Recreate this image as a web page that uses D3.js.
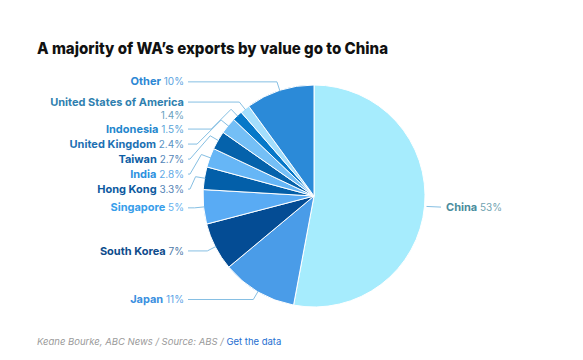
<!DOCTYPE html>
<html>
<head>
<meta charset="utf-8">
<script src="https://cdn.jsdelivr.net/npm/d3@7"></script>
<style>
  html, body { margin: 0; padding: 0; background: #ffffff; }
  svg { display: block; font-family: Inter, "Open Sans", sans-serif; }
</style>
</head>
<body>
<svg id="chart" width="583" height="360"></svg>
<script>
// ---- data ----
const categories = ["China", "Japan", "South Korea", "Singapore", "Hong Kong", "India",
  "Taiwan", "United Kingdom", "Indonesia", "United States of America", "Other"];
const values = [53, 11, 7, 5, 3.3, 2.8, 2.7, 2.4, 1.5, 1.4, 10];
const sliceColors = ["#a6ecfd", "#4a9ce8", "#044c94", "#59abf4", "#035fa9", "#66b6f6",
  "#0562ab", "#74bff6", "#0678c8", "#a3defc", "#2b8ad8"];
const nameColors = ["#4a8c9c", "#3b90e0", "#0e4c8c", "#389eea", "#0d5aa0", "#2d91e0",
  "#0d5ea4", "#1c70b3", "#1f87cd", "#2f7faf", "#2c87d4"];
const pctColors = ["#6fa3b1", "#5aa3e6", "#4d79a8", "#64b1ee", "#5583b5", "#5fa9e6",
  "#5586b8", "#5a93c4", "#5aa4d8", "#6a9fc0", "#5ba3e0"];
const title = "A majority of WA\u2019s exports by value go to China";
const credit = "Keane Bourke, ABC News / Source: ABS / ";
const creditLink = "Get the data";

// ---- layout ----
const svg = d3.select("#chart");
const cx = 314, cy = 196, R = 111;

svg.append("text")
  .attr("x", 37).attr("y", 54)
  .attr("font-size", 16.5).attr("font-weight", 800)
  .attr("fill", "#111")
  .attr("textLength", 351).attr("lengthAdjust", "spacingAndGlyphs")
  .text(title);

const pie = d3.pie().sort(null).value(d => d);
const arcs = pie(values);
const arc = d3.arc().innerRadius(0).outerRadius(R);

const g = svg.append("g").attr("transform", `translate(${cx},${cy})`);
g.selectAll("path.slice").data(arcs).join("path")
  .attr("class", "slice")
  .attr("d", arc)
  .attr("fill", (d, i) => sliceColors[i])
  .attr("stroke", "#ffffff")
  .attr("stroke-width", 1);

// label layout
const polar = (r, a) => [r * Math.sin(a), -r * Math.cos(a)];
const items = arcs.map((d, i) => {
  const mid = (d.startAngle + d.endAngle) / 2;
  const [ox, oy] = polar(120, mid);
  const [ex, ey] = polar(R, mid);
  const name = categories[i];
  const twoLine = name.length > 18;
  return { i, mid, ox, oy, ex, ey, name, twoLine, left: mid > Math.PI, ly: oy };
});

const leftItems = items.filter(d => d.left).sort((a, b) => a.oy - b.oy);
let prev = null;
leftItems.forEach(d => {
  if (prev) {
    const minY = prev.ly + (prev.twoLine ? 27 : 15);
    d.ly = Math.max(d.oy, minY);
  }
  prev = d;
});

const textEndX = -130, lineStartX = -126;
const lines = g.append("g").attr("fill", "none").attr("stroke", "#86bfe3").attr("stroke-width", 1);

items.forEach(d => {
  const pct = `${values[d.i]}%`;
  if (d.left) {
    const bx = Math.max(lineStartX + 2, d.ox - Math.abs(d.ly - d.oy));
    const pts = [[lineStartX, d.ly], [bx, d.ly], [d.ox, d.oy], [d.ex - 1 * Math.sin(d.mid), d.ey + 1 * Math.cos(d.mid)]];
    lines.append("path").attr("d", d3.line()(pts));
    const t = g.append("text")
      .attr("x", textEndX).attr("y", d.ly + 3.6)
      .attr("text-anchor", "end");
    t.append("tspan").attr("font-weight", 700).attr("font-size", 11)
      .attr("fill", nameColors[d.i]).text(d.name);
    if (d.twoLine) {
      g.append("text").attr("x", textEndX).attr("y", d.ly + 16.5)
        .attr("text-anchor", "end").attr("font-size", 10).attr("fill", pctColors[d.i])
        .text(pct);
    } else {
      t.append("tspan").attr("font-size", 10).attr("fill", pctColors[d.i])
        .text(" " + pct);
    }
  } else {
    const [sx, sy] = polar(R + 2, d.mid);
    const ex2 = R + 16;
    lines.append("path").attr("d", d3.line()([[sx, sy], [ex2, d.oy]]));
    const t = g.append("text").attr("x", R + 21).attr("y", d.oy + 3.8);
    t.append("tspan").attr("font-weight", 700).attr("font-size", 11)
      .attr("fill", nameColors[d.i]).text(d.name);
    t.append("tspan").attr("font-size", 10).attr("fill", pctColors[d.i]).text(" " + pct);
  }
});

// credit
const c = svg.append("text").attr("x", 37).attr("y", 345).attr("font-size", 9.5);
c.append("tspan").attr("font-style", "italic").attr("fill", "#9a9a9a").text(credit);
c.append("tspan").attr("fill", "#1f6fd1").text(creditLink);
</script>
</body>
</html>
